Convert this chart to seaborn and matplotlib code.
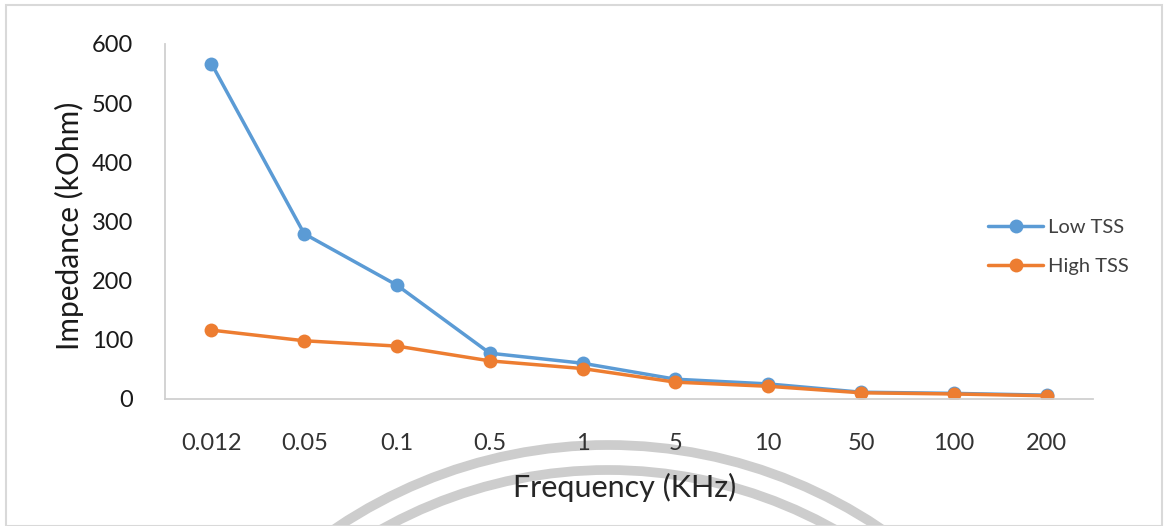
import matplotlib
matplotlib.use("Agg")
import matplotlib.pyplot as plt
from matplotlib.patches import Arc, Rectangle
import seaborn as sns
import pandas as pd

# Impedance readings per frequency (kHz)
frequencies = ["0.012", "0.05", "0.1", "0.5", "1", "5", "10", "50", "100", "200"]
low_tss = [567, 279, 192, 77, 60, 33, 25, 11, 9, 6]
high_tss = [116, 98, 89, 64, 51, 28, 21, 10, 8, 5]
series_names = ["Low TSS", "High TSS"]
y_ticks = [0, 100, 200, 300, 400, 500, 600]

df = pd.DataFrame({
    "Frequency": frequencies * 2,
    "Impedance": low_tss + high_tss,
    "Sample": [series_names[0]] * len(frequencies) + [series_names[1]] * len(frequencies),
})

sns.set_theme(style="white")
plt.rcParams["font.family"] = ["Lato", "DejaVu Sans"]

W, H = 1168, 526
fig = plt.figure(figsize=(W / 100, H / 100), dpi=100)
fig.patch.set_facecolor("white")

# faint seal in the background
bg = fig.add_axes([0, 0, 1, 1], zorder=0)
bg.set_xlim(0, W)
bg.set_ylim(H, 0)
bg.set_aspect("equal")
bg.axis("off")
for r in (487, 462):
    bg.add_patch(Arc((608, 932), 2 * r, 2 * r, theta1=180, theta2=360,
                     color="#cdcdcd", lw=7.0))
bg.add_patch(Rectangle((6, 5), W - 12, H - 5, fill=False, ec="#d9d9d9", lw=1.5))

ax = fig.add_axes([165 / W, 1 - 398.7 / H, (1093 - 165) / W, (398.7 - 44) / H], zorder=1)
ax.patch.set_alpha(0)

palette = {"Low TSS": "#5B9BD5", "High TSS": "#ED7D31"}
sns.lineplot(data=df, x="Frequency", y="Impedance", hue="Sample", palette=palette,
             marker="o", markersize=10, markeredgewidth=0, linewidth=2.5,
             sort=False, ax=ax)

ax.set_xlim(-0.5, len(frequencies) - 0.5)
ax.set_ylim(0, 600)
ax.set_yticks(y_ticks)
ax.tick_params(axis="y", length=0, pad=23, labelsize=17, labelcolor="#1a1a1a")
ax.tick_params(axis="x", length=0, pad=25, labelsize=17, labelcolor="#333333")

for side in ("top", "right"):
    ax.spines[side].set_visible(False)
for side in ("left", "bottom"):
    ax.spines[side].set_color("#d0d0d0")
    ax.spines[side].set_linewidth(1.3)

ax.set_xlabel("")
ax.set_ylabel("")
fig.text(69 / W, 1 - 225.5 / H, "Impedance (kOhm)", rotation=90, ha="center", va="center",
         fontsize=21.5, color="#1a1a1a")
fig.text(625 / W, 1 - 487 / H, "Frequency (KHz)", ha="center", va="center",
         fontsize=22, color="#262626")

handles, labels = ax.get_legend_handles_labels()
ax.get_legend().remove()
fig.legend(handles, labels, loc="center left", bbox_to_anchor=(988 / W, 1 - 247 / H),
           frameon=False, fontsize=14.5, handlelength=2.75, handletextpad=0.25,
           labelspacing=1.05, borderpad=0, borderaxespad=0, labelcolor="#404040")

fig.savefig("out.png", dpi=100)
